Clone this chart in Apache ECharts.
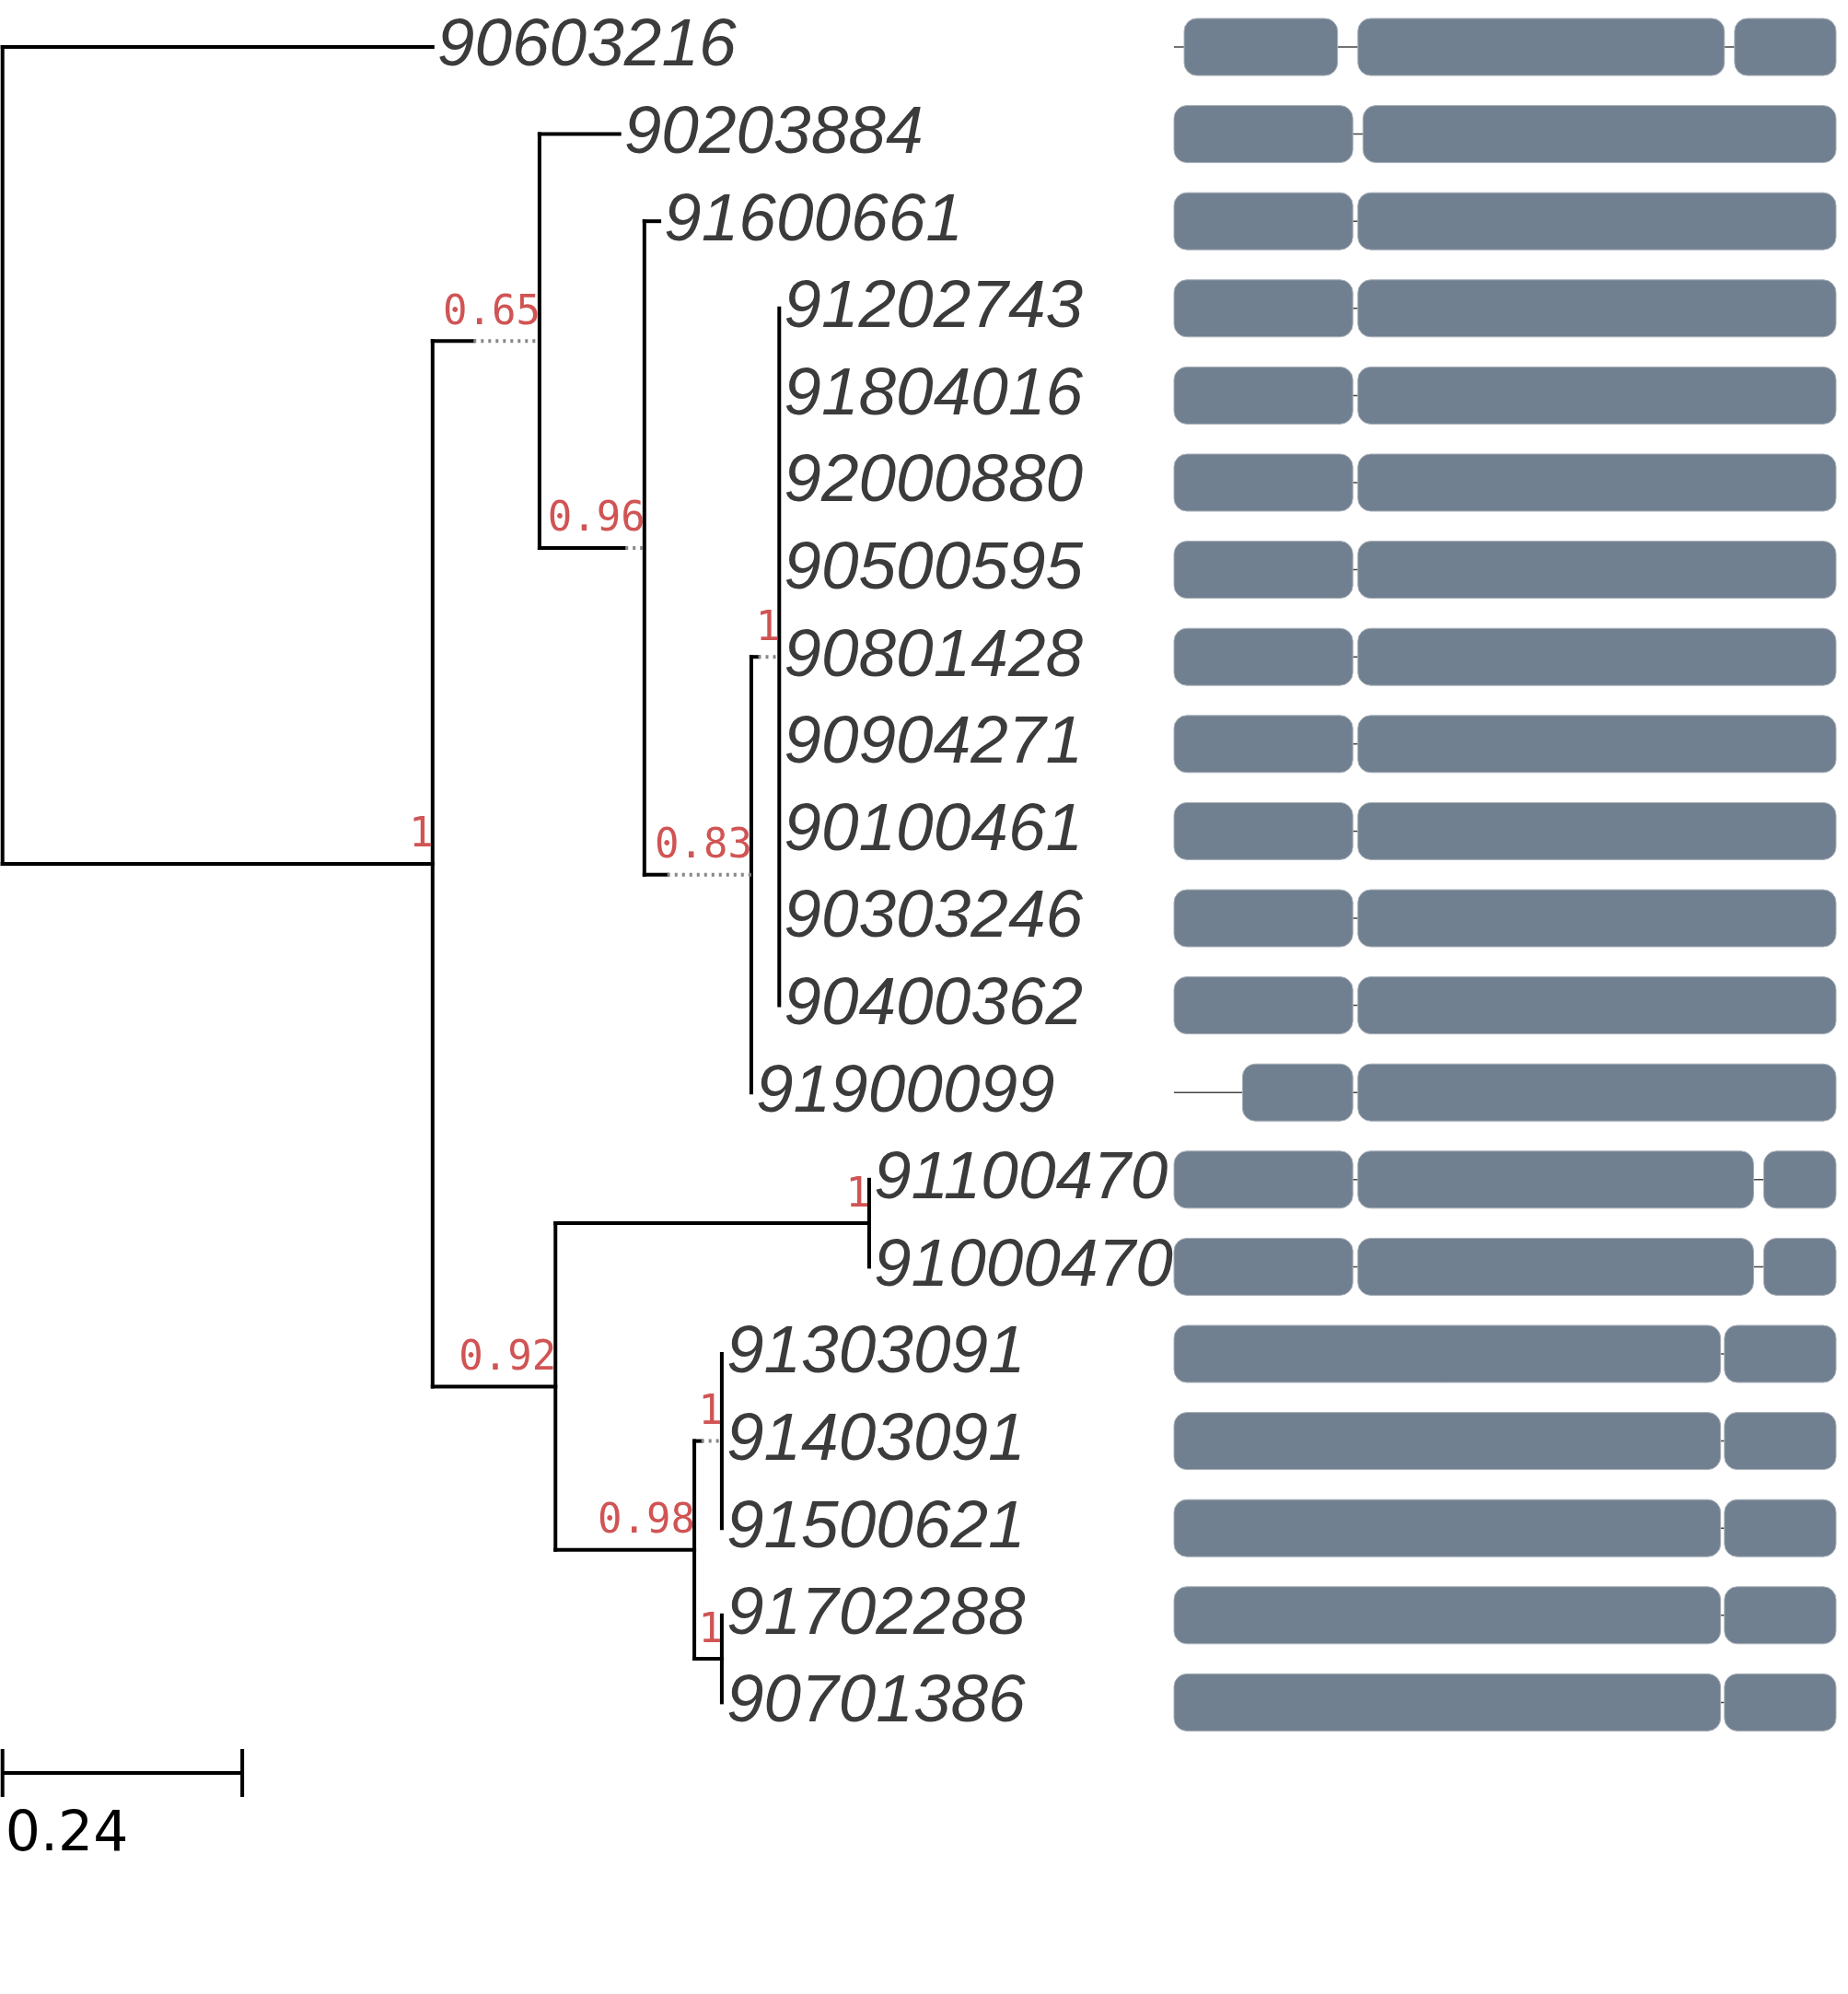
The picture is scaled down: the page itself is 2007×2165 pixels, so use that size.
<!DOCTYPE html>
<html>
<head>
<meta charset="utf-8">
<script src="https://cdn.jsdelivr.net/npm/echarts@6/dist/echarts.min.js"></script>
<style>html,body{margin:0;padding:0;background:#fff}#chart{width:2007px;height:2165px}</style>
</head>
<body>
<div id="chart"></div>
<script>
// tips: name, row, branch tip distance
var tipNames = ["90603216","90203884","91600661","91202743","91804016","92000880","90500595","90801428","90904271","90100461","90303246","90400362","91900099","91100470","91000470","91303091","91403091","91500621","91702288","90701386"];
var tipDist = [0.433,0.620,0.660,0.780,0.780,0.780,0.780,0.780,0.780,0.780,0.780,0.780,0.752,0.870,0.870,0.7225,0.7225,0.7225,0.7225,0.7225];

// internal nodes: id, parent, distance, children (tip index "t#" or node id), support, dotted-from
var nodeIds =      ["R","A","B","C","D","E","F","G","H","I","J"];
var nodeParent =   [null,"R","A","B","C","D","A","F","F","H","H"];
var nodeDist =     [0.0025,0.433,0.540,0.645,0.752,0.780,0.556,0.870,0.695,0.7225,0.7225];
var nodeSupport =  ["", "1","0.65","0.96","0.83","1","0.92","1","0.98","1","1"];
var nodeDotFrom =  [null,null,0.474,0.626,0.668,0.759,null,null,null,0.702,null];
var tipParent = ["R","B","C","E","E","E","E","E","E","E","E","E","D","G","G","I","I","I","J","J"];

// gene domains per row: [start,end] in gene coordinates
var geneLength = 522;
var backboneStart = [0,0,0,0,0,0,0,0,0,0,0,0,0,0,0,0,0,0,0,0];
var domains = [
  [[8,129],[145,434],[442,522]],
  [[0,141],[149,522]],
  [[0,141],[145,522]],[[0,141],[145,522]],[[0,141],[145,522]],[[0,141],[145,522]],[[0,141],[145,522]],
  [[0,141],[145,522]],[[0,141],[145,522]],[[0,141],[145,522]],[[0,141],[145,522]],[[0,141],[145,522]],
  [[54,141],[145,522]],
  [[0,141],[145,457],[465,522]],[[0,141],[145,457],[465,522]],
  [[0,431],[434,522]],[[0,431],[434,522]],[[0,431],[434,522]],[[0,431],[434,522]],[[0,431],[434,522]]
];
var scaleBarLength = 0.24;

// ---- build tree geometry ----
var nodeY = {};
function yOf(id){
  if (nodeY[id] !== undefined) return nodeY[id];
  var ys = [];
  tipParent.forEach(function(p,i){ if(p===id) ys.push(i); });
  nodeParent.forEach(function(p,i){ if(p===id) ys.push(yOf(nodeIds[i])); });
  nodeY[id] = (Math.min.apply(null,ys)+Math.max.apply(null,ys))/2;
  return nodeY[id];
}
function distOf(id){ return nodeDist[nodeIds.indexOf(id)]; }
var segs = []; // x1,y1,x2,y2,dotted
nodeIds.forEach(function(id,i){
  var y = yOf(id), d = nodeDist[i];
  var ys = [];
  tipParent.forEach(function(p,j){ if(p===id) ys.push(j); });
  nodeParent.forEach(function(p,j){ if(p===id) ys.push(yOf(nodeIds[j])); });
  segs.push([d, Math.min.apply(null,ys), d, Math.max.apply(null,ys), 0]);
  var p = nodeParent[i];
  if (p){
    var pd = distOf(p);
    if (nodeDotFrom[i] !== null){
      segs.push([pd,y,nodeDotFrom[i],y,0]);
      segs.push([nodeDotFrom[i],y,d,y,1]);
    } else segs.push([pd,y,d,y,0]);
  }
});
tipNames.forEach(function(n,i){
  var pd = distOf(tipParent[i]);
  if (tipDist[i] > pd) segs.push([pd,i,tipDist[i],i,0]);
});
var supportData = [];
nodeIds.forEach(function(id,i){ if(nodeSupport[i]) supportData.push([nodeDist[i], yOf(id), nodeSupport[i]]); });
var tipData = tipNames.map(function(n,i){ return [tipDist[i], i, n]; });
var boxData = [], backData = [];
domains.forEach(function(row,i){
  backData.push([backboneStart[i], i, geneLength]);
  row.forEach(function(b){ boxData.push([b[0], i, b[1]]); });
});

var rowPx = 94.6, yMin = -51/rowPx, yMax = yMin + 2165/rowPx;
var yAx = function(g){ return {gridIndex:g,type:'value',inverse:true,min:yMin,max:yMax,show:false}; };

var chart = echarts.init(document.getElementById('chart'));
chart.setOption({
  animation:false,
  backgroundColor:'#fff',
  grid:[{left:0,top:0,width:2007,height:2165},{left:1275,top:0,width:719,height:2165}],
  xAxis:[{gridIndex:0,type:'value',min:0,max:2007/1085,show:false},
         {gridIndex:1,type:'value',min:0,max:geneLength,show:false}],
  yAxis:[yAx(0),yAx(1)],
  series:[
    {type:'custom',xAxisIndex:0,yAxisIndex:0,data:segs,clip:false,z:3,
     renderItem:function(p,api){
       var a=api.coord([api.value(0),api.value(1)]), b=api.coord([api.value(2),api.value(3)]);
       var dot=api.value(4);
       return {type:'line',shape:{x1:a[0],y1:a[1],x2:b[0],y2:b[1]},
         style:{stroke:dot?'#888':'#000',lineWidth:4,lineDash:dot?[3,5]:null,lineCap:dot?'butt':'square'}};
     }},
    {type:'custom',xAxisIndex:0,yAxisIndex:0,data:tipData,clip:false,z:2,
     renderItem:function(p,api){
       var a=api.coord([api.value(0),api.value(1)]);
       return {type:'text',x:a[0]+5,y:a[1],style:{text:tipData[p.dataIndex][2],fill:'#3b3b3b',
         font:'italic 73px "Liberation Sans"',textAlign:'left',textVerticalAlign:'middle'}};
     }},
    {type:'custom',xAxisIndex:0,yAxisIndex:0,data:supportData,clip:false,z:4,
     renderItem:function(p,api){
       var a=api.coord([api.value(0),api.value(1)]);
       return {type:'text',x:a[0]+1,y:a[1]-8,style:{text:supportData[p.dataIndex][2],fill:'#d05454',
         font:'44px "DejaVu Sans Mono"',textAlign:'right',textVerticalAlign:'bottom'}};
     }},
    {type:'custom',xAxisIndex:0,yAxisIndex:0,data:[[0.0025,19.81]],clip:false,
     renderItem:function(p,api){
       var a=api.coord([api.value(0),api.value(1)]), b=api.coord([api.value(0)+scaleBarLength,api.value(1)]);
       var s={stroke:'#000',lineWidth:4};
       return {type:'group',children:[
         {type:'line',shape:{x1:a[0],y1:a[1],x2:b[0],y2:b[1]},style:s},
         {type:'line',shape:{x1:a[0],y1:a[1]-26,x2:a[0],y2:a[1]+26},style:s},
         {type:'line',shape:{x1:b[0],y1:b[1]-26,x2:b[0],y2:b[1]+26},style:s},
         {type:'text',x:a[0]+3,y:a[1]+68,style:{text:String(scaleBarLength),fill:'#000',
           font:'60px "DejaVu Sans"',textAlign:'left',textVerticalAlign:'middle'}}
       ]};
     }},
    {type:'custom',xAxisIndex:1,yAxisIndex:1,data:backData,clip:false,z:5,
     renderItem:function(p,api){
       var a=api.coord([api.value(0),api.value(1)]), b=api.coord([api.value(2),api.value(1)]);
       return {type:'line',shape:{x1:a[0],y1:a[1],x2:b[0],y2:b[1]},style:{stroke:'#444',lineWidth:1.5}};
     }},
    {type:'custom',xAxisIndex:1,yAxisIndex:1,data:boxData,clip:false,z:6,
     renderItem:function(p,api){
       var a=api.coord([api.value(0),api.value(1)]), b=api.coord([api.value(2),api.value(1)]);
       return {type:'rect',shape:{x:a[0],y:a[1]-31,width:b[0]-a[0],height:62,r:14},
         style:{fill:'#708090',stroke:'#a9b0b8',lineWidth:1}};
     }}
  ]
});
</script>
</body>
</html>
